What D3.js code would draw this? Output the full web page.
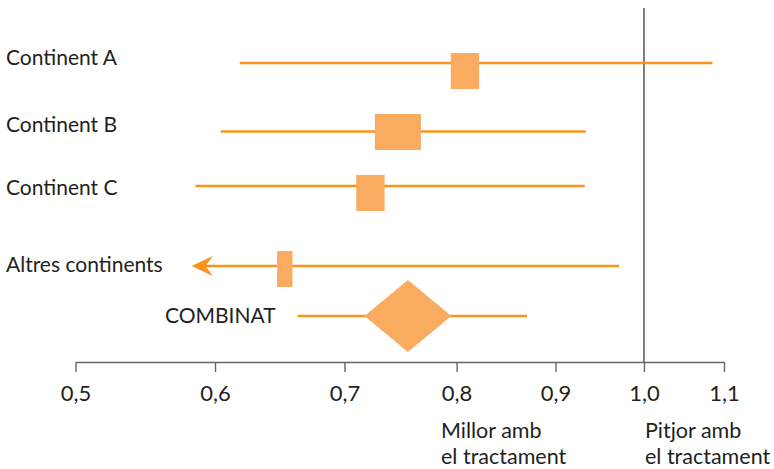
<!DOCTYPE html>
<html>
<head>
<meta charset="utf-8">
<script src="https://cdn.jsdelivr.net/npm/d3@7"></script>
<style>
  body { margin: 0; background: #fff; }
  svg { display: block; font-family: Lato, "Open Sans", sans-serif; }
</style>
</head>
<body>
<svg width="774" height="469"></svg>
<script>
// dades llegides del gràfic (escala de raó, logarítmica)
const studies   = ["Continent A", "Continent B", "Continent C", "Altres continents"];
const estimate  = [0.808, 0.746, 0.722, 0.652];
const lower     = [0.618, 0.604, 0.585, 0.582];
const upper     = [1.085, 0.933, 0.932, 0.971];
const weight    = [24, 39, 24, 13];           // pes (%) -> amplada del quadrat
const truncated = [false, false, false, true]; // interval tallat per l'esquerra

const pooledLabel = "COMBINAT";
const pooledEst   = 0.755;
const pooledCI    = [0.717, 0.795];
const pooledPI    = [0.662, 0.870];

const tickValues = [0.5, 0.6, 0.7, 0.8, 0.9, 1.0, 1.1];
const refValue   = 1.0;
const noteLeft   = ["Millor amb", "el tractament"];
const noteRight  = ["Pitjor amb", "el tractament"];

const lineColor = "#F7941D";
const boxColor  = "#F9AC60";

const svg = d3.select("svg");

// posicions verticals de cada fila (maquetació)
const lineY  = [63, 131.5, 186, 266];
const boxY   = [71, 132, 193, 269];
const labelY = [65, 132, 195, 272];
const pooledY = 316;
const axisY = 362;

// escala logarítmica
const x = d3.scaleLog()
    .domain([0.5, 0.6, 1.1])
    .range([75.5, 215, 724]);

const w = d3.scaleLinear().domain([0, 39]).range([0, 46]);

const locale = d3.formatLocale({decimal: ",", thousands: ".", grouping: [3], currency: ["", "€"]});
const fmt = locale.format(".1f");

// eix
const axis = svg.append("g")
    .attr("transform", `translate(0, ${axisY})`)
    .call(d3.axisBottom(x).tickValues(tickValues).tickFormat(fmt)
        .tickSize(10).tickSizeOuter(0).tickPadding(13));
axis.select(".domain").attr("stroke", "#666").attr("stroke-width", 1.4);
axis.selectAll(".tick line").attr("stroke", "#666").attr("stroke-width", 1.4);
axis.selectAll(".tick text")
    .attr("fill", "#231f20")
    .style("font-size", "22px")
    .style("font-family", "Lato, sans-serif");

// línia de referència a 1,0
svg.append("line")
    .attr("x1", x(refValue)).attr("x2", x(refValue))
    .attr("y1", 8).attr("y2", axisY)
    .attr("stroke", "#555").attr("stroke-width", 1.5);

const rows = studies.map((s, i) => ({
    label: s, est: estimate[i], lo: lower[i], hi: upper[i],
    wt: weight[i], cut: truncated[i], ly: lineY[i], by: boxY[i], ty: labelY[i]
}));

// intervals
svg.selectAll(".ci")
    .data(rows)
    .enter()
    .append("line")
    .attr("class", "ci")
    .attr("x1", d => d.cut ? x(d.lo) + 8 : x(d.lo))
    .attr("x2", d => x(d.hi))
    .attr("y1", d => d.ly).attr("y2", d => d.ly)
    .attr("stroke", lineColor)
    .attr("stroke-width", 2.5);

// fletxa per als intervals tallats
svg.selectAll(".arrow")
    .data(rows.filter(d => d.cut))
    .enter()
    .append("path")
    .attr("class", "arrow")
    .attr("d", d => {
        const tx = x(d.lo), y = d.ly;
        return `M${tx},${y} L${tx + 21},${y - 10} L${tx + 14},${y} L${tx + 21},${y + 10} Z`;
    })
    .attr("fill", lineColor);

// quadrats
svg.selectAll(".box")
    .data(rows)
    .enter()
    .append("rect")
    .attr("class", "box")
    .attr("x", d => x(d.est) - w(d.wt) / 2)
    .attr("y", d => d.by - 18)
    .attr("width", d => w(d.wt))
    .attr("height", 36)
    .attr("fill", boxColor);

// etiquetes
svg.selectAll(".label")
    .data(rows)
    .enter()
    .append("text")
    .attr("class", "label")
    .attr("x", 6)
    .attr("y", d => d.ty)
    .attr("fill", "#231f20")
    .style("font-size", "21px")
    .text(d => d.label);

// resultat combinat
svg.append("line")
    .attr("x1", x(pooledPI[0])).attr("x2", x(pooledPI[1]))
    .attr("y1", pooledY).attr("y2", pooledY)
    .attr("stroke", lineColor).attr("stroke-width", 2.5);

svg.append("path")
    .attr("d", `M${x(pooledCI[0])},${pooledY} L${x(pooledEst)},${pooledY - 36} ` +
               `L${x(pooledCI[1])},${pooledY} L${x(pooledEst)},${pooledY + 36} Z`)
    .attr("fill", boxColor);

svg.append("text")
    .attr("x", 165)
    .attr("y", pooledY + 7)
    .attr("fill", "#231f20")
    .style("font-size", "21px")
    .text(pooledLabel);

// notes sota l'eix
function note(lines, x0) {
    lines.forEach((t, i) => {
        svg.append("text")
            .attr("x", x0)
            .attr("y", 438 + i * 26)
            .attr("fill", "#231f20")
            .style("font-size", "21.5px")
            .text(t);
    });
}
note(noteLeft, 441);
note(noteRight, x(refValue) + 1);
</script>
</body>
</html>
